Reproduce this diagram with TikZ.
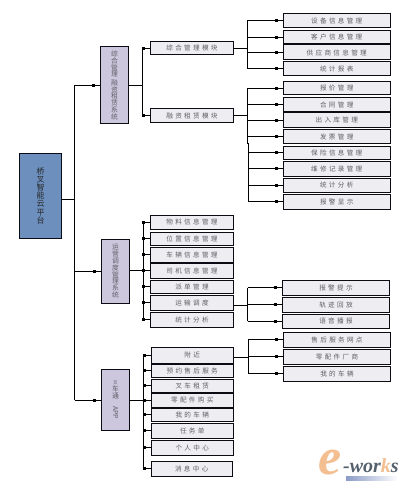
\documentclass[tikz,border=0pt]{standalone}
\usepackage{fontspec}
\usepackage{graphicx}
\setmainfont{Liberation Serif}
\newfontfamily\cjk{Noto Sans CJK SC}
\newfontfamily\cjksp[LetterSpace=35]{Noto Sans CJK SC}
\usetikzlibrary{arrows.meta,calc}
\definecolor{rootfill}{HTML}{6C8FBE}
\definecolor{sysfill}{HTML}{CDC7DE}
\definecolor{leaffill}{HTML}{EEEDF2}
\definecolor{edgecol}{HTML}{0B0B14}
\definecolor{txtcol}{HTML}{5E5E66}
\definecolor{logoorange}{HTML}{F3BE90}
\definecolor{logogray}{HTML}{55606E}
\definecolor{logobar}{HTML}{8C9CC8}
\tikzset{
  x=1pt,y=-1pt,
  rootbox/.style={draw=edgecol,line width=1pt,fill=rootfill,inner sep=0pt,font=\cjk\fontsize{8}{8.2}\selectfont,text=black!85,align=center},
  sysbox/.style={draw=edgecol,line width=1pt,fill=sysfill,inner sep=0pt,font=\cjk\fontsize{6.8}{6.8}\selectfont,text=txtcol,align=center},
  leafbox/.style={draw=edgecol,line width=1pt,fill=leaffill,inner sep=0pt,font=\cjksp\fontsize{6.6}{7}\selectfont,text=txtcol},
  wire/.style={draw=black,line width=1pt},
  tipwire/.style={wire,-{Square[length=3pt,width=3pt]}}
}
% box by its corners: name, style, x1, y1, x2, y2, text
\newcommand{\boxat}[7]{\node[#2,minimum width=#5pt-#3pt,minimum height=#6pt-#4pt] (#1) at ({(#3+#5)/2},{(#4+#6)/2}) {#7};}
% branch from a bus coordinate to a child, with the square mark near the child
\newcommand{\branch}[2]{%
  \draw[tipwire] (#1 |- #2.west) -- ([xshift=-5pt]#2.west);
  \draw[wire] ([xshift=-5pt]#2.west) -- (#2.west);}
\begin{document}
\begin{tikzpicture}
\useasboundingbox (0,0) rectangle (410,489);
\boxat{root}{rootbox}{19.5}{153.5}{61.5}{238}{桥\\叉\\智\\能\\云\\平\\台}
\boxat{sysa}{sysbox}{100.5}{46.5}{128.5}{124}{综\\合\\管\\理\\[1.5pt]融\\资\\租\\赁\\系\\统}
\boxat{sysb}{sysbox}{101.5}{239.5}{129.5}{303}{运\\营\\调\\度\\管\\理\\系\\统}
\boxat{sysc}{sysbox}{101.5}{369.5}{129.5}{430.5}{\fontsize{4.6}{4.8}\selectfont 叉\\车\\通\\[1pt]\rotatebox{-90}{APP}}
% modules
\boxat{moda}{leafbox}{150.5}{41.5}{233.5}{55}{综合管理模块}
\boxat{modb}{leafbox}{150.5}{108.5}{233.5}{123}{融资租赁模块}
% first column of leaves
\boxat{a1}{leafbox}{283}{13.5}{390.5}{27.5}{设备信息管理}
\boxat{a2}{leafbox}{283}{30.5}{390.5}{44}{客户信息管理}
\boxat{a3}{leafbox}{283}{45}{390.5}{60}{供应商信息管理}
\boxat{a4}{leafbox}{283}{61.5}{390.5}{76}{统计报表}
\boxat{b1}{leafbox}{283}{81.5}{390.5}{95}{报价管理}
\boxat{b2}{leafbox}{283}{98}{390.5}{112}{合同管理}
\boxat{b3}{leafbox}{283}{113}{390.5}{127.5}{出入库管理}
\boxat{b4}{leafbox}{283}{129.5}{390.5}{144}{发票管理}
\boxat{b5}{leafbox}{283}{146.5}{390.5}{159.5}{保险信息管理}
\boxat{b6}{leafbox}{283}{161.5}{390.5}{176}{维修记录管理}
\boxat{b7}{leafbox}{283}{178}{390.5}{192.5}{统计分析}
\boxat{b8}{leafbox}{283}{194.5}{390.5}{209}{报警显示}
% second system
\boxat{c1}{leafbox}{150.5}{215.5}{233.5}{229}{物料信息管理}
\boxat{c2}{leafbox}{150.5}{232}{233.5}{245}{位置信息管理}
\boxat{c3}{leafbox}{150.5}{247}{233.5}{262}{车辆信息管理}
\boxat{c4}{leafbox}{150.5}{263.5}{233.5}{278}{司机信息管理}
\boxat{c5}{leafbox}{150.5}{280.5}{233.5}{293}{派单管理}
\boxat{c6}{leafbox}{150.5}{295.5}{233.5}{310}{运输调度}
\boxat{c7}{leafbox}{150.5}{312.5}{233.5}{327}{统计分析}
\boxat{d1}{leafbox}{282.5}{280.5}{389.5}{295}{报警提示}
\boxat{d2}{leafbox}{282.5}{297.5}{389.5}{312}{轨迹回放}
\boxat{d3}{leafbox}{282.5}{314.5}{389.5}{328}{语音播报}
% third system
\boxat{e1}{leafbox}{151}{347.5}{233.5}{363}{附近}
\boxat{e2}{leafbox}{151}{364.5}{233.5}{377}{预约售后服务}
\boxat{e3}{leafbox}{151}{379.5}{233.5}{392}{叉车租赁}
\boxat{e4}{leafbox}{151}{393.5}{233.5}{407}{零配件购买}
\boxat{e5}{leafbox}{151}{408.5}{233.5}{421}{我的车辆}
\boxat{e6}{leafbox}{151}{423.5}{233.5}{438}{任务单}
\boxat{e7}{leafbox}{151}{440.5}{233.5}{455}{个人中心}
\boxat{e8}{leafbox}{151}{461.5}{232.5}{476}{消息中心}
\boxat{f1}{leafbox}{283.5}{332.5}{390.5}{347}{售后服务网点}
\boxat{f2}{leafbox}{283.5}{349.5}{390.5}{364}{零配件厂商}
\boxat{f3}{leafbox}{283.5}{366.5}{390.5}{381}{我的车辆}
% buses
\coordinate (busroot) at (74.5,199);
\coordinate (busa) at (142.5,86);
\coordinate (busb) at (143.5,270);
\coordinate (busc) at (143.5,400);
\coordinate (busma) at (247.5,47.5);
\coordinate (busmb) at (247.5,115);
\coordinate (busmc) at (248.5,144);
\coordinate (busd) at (247.5,305);
\coordinate (busf) at (248,357);
% root level
\draw[wire] (root.east |- busroot) -- (busroot);
\draw[wire] (busroot |- sysa.west) -- (busroot |- sysc.west);
\foreach \s in {sysa,sysb,sysc}{\branch{busroot}{\s}}
% first system
\draw[wire] (sysa.east) -- (busa |- sysa.east);
\draw[wire] (busa |- moda.west) -- (busa |- modb.west);
\branch{busa}{moda}\branch{busa}{modb}
\draw[wire] (moda.east) -- (busma |- moda.east);
\draw[wire] (busma |- a1.west) -- (busma |- a4.west);
\foreach \s in {a1,a2,a3,a4}{\branch{busma}{\s}}
\draw[wire] (modb.east) -- (busmb |- modb.east);
\draw[wire] (busmb |- b1.west) -- (busmb |- busmc);
\foreach \s in {b1,b2,b3,b4}{\branch{busmb}{\s}}
\draw[wire] (busmb |- busmc) -- (busmc) -- (busmc |- b8.west);
\foreach \s in {b5,b6,b7,b8}{\branch{busmc}{\s}}
% second system
\draw[wire] (sysb.east |- busb) -- (busb);
\draw[wire] (busb |- c1.west) -- (busb |- c7.west);
\foreach \s in {c1,c2,c3,c4,c5,c6,c7}{\branch{busb}{\s}}
\draw[wire] (c6.east |- busd) -- (busd);
\draw[wire] (busd |- d1.west) -- (busd |- d3.west);
\foreach \s in {d1,d2,d3}{\branch{busd}{\s}}
% third system
\draw[wire] (sysc.east |- busc) -- (busc);
\draw[wire] (busc |- e1.west) -- (busc |- e8.west);
\foreach \s in {e1,e2,e3,e4,e5,e6,e7,e8}{\branch{busc}{\s}}
\draw[wire] (e1.east |- busf) -- (busf);
\draw[wire] (busf |- f1.west) -- (busf |- f3.west);
\foreach \s in {f1,f2,f3}{\branch{busf}{\s}}
% logo
\shade[left color=logobar,right color=white,draw=none] (346,476) rectangle (398,480);
\node[inner sep=0pt,text=logoorange,font=\fontsize{52}{52}\selectfont\itshape\bfseries] (logoe) at (330,462) {e};
\node[inner sep=0pt,anchor=west,text=logogray,font=\fontsize{20}{20}\selectfont\itshape\bfseries] (logow) at (343,466) {-wor\textcolor{logoorange}{k}s};
\end{tikzpicture}
\end{document}
